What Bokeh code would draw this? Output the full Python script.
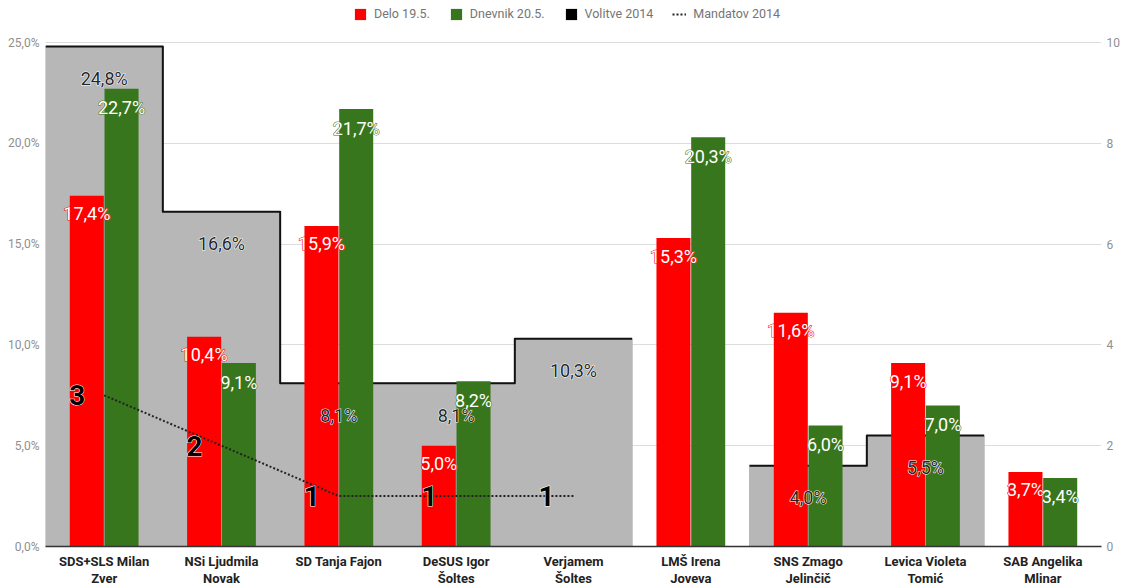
import math
from bokeh.plotting import figure
from bokeh.models import (Range1d, LinearAxis, FixedTicker, CustomJSTickFormatter,
                          ColumnDataSource, Legend, LegendItem)
from bokeh.embed import file_html
from bokeh.resources import INLINE
from bokeh.core.properties import value

# ---- data ----
categories = ["SDS+SLS Milan\nZver", "NSi Ljudmila\nNovak", "SD Tanja Fajon",
              "DeSUS Igor\nŠoltes", "Verjamem\nŠoltes", "LMŠ Irena\nJoveva",
              "SNS Zmago\nJelinčič", "Levica Violeta\nTomić", "SAB Angelika\nMlinar"]
delo = [17.4, 10.4, 15.9, 5.0, None, 15.3, 11.6, 9.1, 3.7]
dnevnik = [22.7, 9.1, 21.7, 8.2, None, 20.3, 6.0, 7.0, 3.4]
volitve = [24.8, 16.6, 8.1, 8.1, 10.3, None, 4.0, 5.5, None]
mandatov = [3, 2, 1, 1, 1, None, None, None, None]
pct_ticks = [0, 5, 10, 15, 20, 25]
seat_ticks = [0, 2, 4, 6, 8, 10]

RED = "#ff0000"
GREEN = "#38761d"
GREY = "#b7b7b7"
FONT = value("Roboto")

n = len(categories)
centers = [i + 0.5 for i in range(n)]


def fmt(v):
    return f"{v:.1f}".replace(".", ",") + "%"


# layout: the frame extends above the 25 % line to hold the legend
FRAME_H = 542
PLOT_H = 504          # pixels between 0 % and 25 %
YMAX = 25 * FRAME_H / PLOT_H
SEATMAX = 10 * FRAME_H / PLOT_H

p = figure(width=1122, frame_height=FRAME_H, x_range=Range1d(0, n), y_range=Range1d(0, YMAX),
           output_backend="svg", toolbar_location=None,
           min_border_left=45, min_border_right=0, min_border_top=4, min_border_bottom=10)
p.extra_y_ranges = {"seats": Range1d(0, SEATMAX)}
p.outline_line_color = None
p.background_fill_color = "white"

# grid
p.xgrid.visible = False
p.ygrid.ticker = FixedTicker(ticks=pct_ticks)
p.ygrid.grid_line_color = "#dddddd"

# left axis
p.yaxis.ticker = FixedTicker(ticks=pct_ticks)
p.yaxis.formatter = CustomJSTickFormatter(code="return tick.toFixed(1).replace('.', ',') + '%';")
p.yaxis.axis_line_color = None
p.yaxis.major_tick_line_color = None
p.yaxis.minor_tick_line_color = None
p.yaxis.major_tick_out = 0
p.yaxis.major_tick_in = 0
p.yaxis.major_label_text_color = "#8f8f8f"
p.yaxis.major_label_text_font = "Roboto"
p.yaxis.major_label_text_font_size = "12px"
p.yaxis.major_label_standoff = 6

# right axis
ax2 = LinearAxis(y_range_name="seats", ticker=FixedTicker(ticks=seat_ticks))
ax2.axis_line_color = None
ax2.major_tick_line_color = None
ax2.minor_tick_line_color = None
ax2.major_tick_out = 0
ax2.major_tick_in = 0
ax2.major_label_text_color = "#8f8f8f"
ax2.major_label_text_font = "Roboto"
ax2.major_label_text_font_size = "12px"
ax2.major_label_standoff = 5
p.add_layout(ax2, "right")

# x axis
p.xaxis.ticker = FixedTicker(ticks=centers)
p.xaxis.major_label_overrides = {c: lab for c, lab in zip(centers, categories)}
p.xaxis.axis_line_color = "#333333"
p.xaxis.axis_line_width = 1.5
p.xaxis.major_tick_line_color = None
p.xaxis.minor_tick_line_color = None
p.xaxis.major_tick_out = 0
p.xaxis.major_tick_in = 0
p.xaxis.major_label_text_font = "Roboto"
p.xaxis.major_label_text_font_style = "bold"
p.xaxis.major_label_text_font_size = "13px"
p.xaxis.major_label_text_line_height = 1.15
p.xaxis.major_label_text_color = "#222222"
p.xaxis.major_label_standoff = 7

# ---- Volitve 2014 stepped area ----
vi = [i for i, v in enumerate(volitve) if v is not None]
area_src = ColumnDataSource(dict(left=[i for i in vi], right=[i + 1 for i in vi],
                                 top=[volitve[i] for i in vi], bottom=[0] * len(vi),
                                 x=[centers[i] for i in vi], y=[volitve[i] for i in vi],
                                 lab=[fmt(volitve[i]) for i in vi]))
p.quad(left="left", right="right", top="top", bottom="bottom", source=area_src,
       fill_color=GREY, line_color=GREY, line_width=1)

xs, ys = [], []
cur_x, cur_y = [], []
for i, v in enumerate(volitve):
    if v is None:
        if cur_x:
            xs.append(cur_x); ys.append(cur_y)
        cur_x, cur_y = [], []
        continue
    cur_x += [i, i + 1]
    cur_y += [v, v]
if cur_x:
    xs.append(cur_x); ys.append(cur_y)
p.multi_line(xs=xs, ys=ys, line_color="#111111", line_width=2, line_join="round")

# legend proxy for Volitve 2014 (zero-width, invisible on the plot)
r_black = p.vbar(x="x", top="y", width=0, source=area_src, fill_color="black", line_color=None)

# ---- bars ----
OFF = 0.148
BW = 0.29
di = [i for i, v in enumerate(delo) if v is not None]
ni = [i for i, v in enumerate(dnevnik) if v is not None]
red_src = ColumnDataSource(dict(x=[centers[i] - OFF for i in di], top=[delo[i] for i in di],
                                lab=[fmt(delo[i]) for i in di]))
grn_src = ColumnDataSource(dict(x=[centers[i] + OFF for i in ni], top=[dnevnik[i] for i in ni],
                                lab=[fmt(dnevnik[i]) for i in ni]))
r_red = p.vbar(x="x", top="top", width=BW, source=red_src, fill_color=RED, line_color=None)
r_grn = p.vbar(x="x", top="top", width=BW, source=grn_src, fill_color=GREEN, line_color=None)

# ---- Mandatov 2014 dotted line ----
mi = [i for i, v in enumerate(mandatov) if v is not None]
m_src = ColumnDataSource(dict(x=[centers[i] for i in mi], y=[mandatov[i] for i in mi],
                              lab=[str(mandatov[i]) for i in mi]))
r_mand = p.line(x="x", y="y", source=m_src, y_range_name="seats", line_color="#222222",
                line_width=2, line_dash="2 2")


# ---- labels (halo layer + fill layer) ----
def halo_text(src, y, fill, halo, size, dy=0, dx=0, style="normal", y_range_name="default"):
    kw = dict(x="x", y=y, text="lab", source=src, x_offset=dx, y_offset=dy,
              text_align="center", text_baseline="middle", text_font=FONT,
              text_font_size=size, text_font_style=style, y_range_name=y_range_name)
    p.text(text_color=halo, text_outline_color=halo, **kw)
    p.text(text_color=fill, **kw)


halo_text(area_src, "y", "#262626", "white", "18px", dy=32)
halo_text(red_src, "top", "white", RED, "18px", dy=18)
halo_text(grn_src, "top", "white", GREEN, "18px", dy=19)
halo_text(m_src, "y", "black", "white", "28px", dx=-27, style="bold", y_range_name="seats")

# ---- legend (inside the frame, above the 25 % line) ----
legend = Legend(items=[LegendItem(label="Delo 19.5.", renderers=[r_red]),
                       LegendItem(label="Dnevnik 20.5.", renderers=[r_grn]),
                       LegendItem(label="Volitve 2014", renderers=[r_black]),
                       LegendItem(label="Mandatov 2014", renderers=[r_mand])],
                orientation="horizontal", location=(308, FRAME_H - 17),
                label_text_font="Roboto", label_text_font_size="12.5px",
                label_text_color="#757575", glyph_width=14, glyph_height=14,
                label_standoff=7, spacing=19, padding=0, margin=0,
                border_line_color=None, background_fill_alpha=0)
p.add_layout(legend, "center")

open("out.html", "w").write(file_html(p, INLINE))
